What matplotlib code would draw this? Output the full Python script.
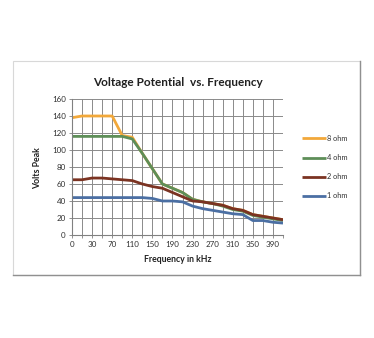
import numpy as np
import matplotlib.pyplot as plt
from matplotlib.lines import Line2D

# frequency categories (kHz); only every other one gets a label
freq = ['0', '10', '30', '50', '70', '90', '110', '130', '150', '170', '190',
        '210', '230', '250', '270', '290', '310', '330', '350', '370', '390', '410']

ohm8 = [138, 140, 140, 140, 140, 117, 115, 96, 78, 60, 55, 50, 42, 39, 37, 35, 31, 29, 24, 22, 20, 18]
ohm4 = [116, 116, 116, 116, 116, 116, 113, 96, 78, 60, 55, 50, 42, 39, 37, 34, 30, 28, 23, 21, 19, 17]
ohm2 = [65, 65, 67, 67, 66, 65, 64, 60, 57, 55, 50, 45, 40, 39, 37, 35, 31, 29, 24, 22, 20, 18]
ohm1 = [44, 44, 44, 44, 44, 44, 44, 44, 43, 40, 40, 39, 34, 31, 29, 27, 25, 24, 17, 17, 15, 14]

series = [("8 ohm", ohm8, '#F2A83A'),
          ("4 ohm", ohm4, '#5E8E58'),
          ("2 ohm", ohm2, '#7B3322'),
          ("1 ohm", ohm1, '#4B6FA3')]

plt.rcParams['font.family'] = ['Lato', 'DejaVu Sans']

W, H = 374, 338
fig = plt.figure(figsize=(W / 100, H / 100), dpi=100)
fig.patch.set_facecolor('white')

# chart frame
fig.add_artist(plt.Rectangle((13 / W, 1 - 275 / H), (360 - 13) / W, (275 - 61) / H,
                             transform=fig.transFigure, fill=False,
                             edgecolor='#d8d8d8', lw=0.8))
fig.add_artist(Line2D([360 / W, 360 / W], [1 - 61 / H, 1 - 275 / H],
                      transform=fig.transFigure, color='#909090', lw=1.0))
fig.add_artist(Line2D([13 / W, 360 / W], [1 - 275 / H, 1 - 275 / H],
                      transform=fig.transFigure, color='#909090', lw=1.0))

ax = fig.add_axes([72 / W, 1 - 235 / H, (283 - 72) / W, (235 - 99) / H])
x = np.arange(len(freq))
for name, vals, col in series:
    ax.plot(x, vals, color=col, lw=2.0, label=name, solid_capstyle='butt')

ax.set_xlim(0, len(freq) - 1)
ax.set_ylim(0, 160)
ax.set_yticks(range(0, 161, 20))
ax.set_xticks(x)
ax.set_xticklabels([f if i % 2 == 0 else '' for i, f in enumerate(freq)])
ax.grid(True, color='#8a8a8a', lw=0.7)
ax.set_axisbelow(True)
for s in ['top', 'right']:
    ax.spines[s].set_visible(False)
ax.spines['left'].set_color('#808080')
ax.spines['bottom'].set_color('#808080')
ax.tick_params(axis='both', labelsize=5.8, colors='#808080', length=2.5, width=0.6, pad=2)
for lab in ax.get_xticklabels() + ax.get_yticklabels():
    lab.set_color('#303030')

fig.text(178 / W, 1 - 83 / H, "Voltage Potential  vs. Frequency", ha='center', va='center',
         fontsize=8.5, fontweight='bold', color='#202020')
fig.text(178 / W, 1 - 259 / H, "Frequency in kHz", ha='center', va='center',
         fontsize=6.3, fontweight='bold', color='#202020')
fig.text(38 / W, 1 - 168 / H, "Volts Peak", ha='center', va='center', rotation=90,
         fontsize=6.3, fontweight='bold', color='#202020')

leg = ax.legend(loc='upper left', bbox_to_anchor=(302 / W, 1 - 135 / H),
                bbox_transform=fig.transFigure, frameon=False, fontsize=5.3,
                handlelength=3.3, handletextpad=0.1, labelspacing=1.65,
                borderaxespad=0, borderpad=0)
for t in leg.get_texts():
    t.set_color('#303030')

fig.savefig('out.png', dpi=100, facecolor='white')
